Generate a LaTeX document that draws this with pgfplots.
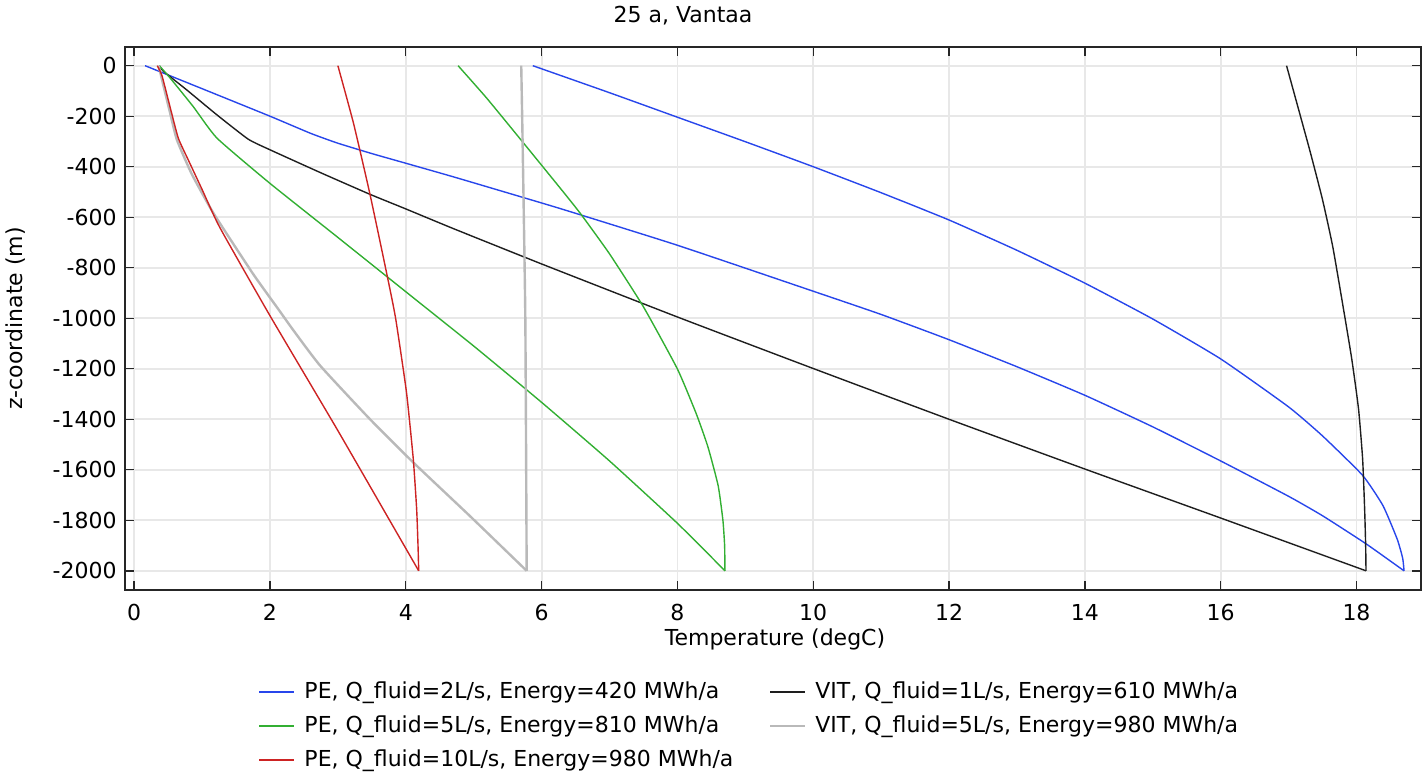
\documentclass[border=0pt]{standalone}
\usepackage{fontspec}
\setmainfont{DejaVu Sans}
\usepackage{pgfplots}
\pgfplotsset{compat=1.18}
\definecolor{cblue}{RGB}{40,70,235}
\definecolor{cgreen}{RGB}{50,175,50}
\definecolor{cred}{RGB}{205,35,35}
\definecolor{cgray}{RGB}{185,185,185}
\definecolor{cblack}{RGB}{30,30,30}
\definecolor{cgrid}{RGB}{232,232,232}
\begin{document}
\fontsize{11}{13}\selectfont
\begin{tikzpicture}
\useasboundingbox (-62.5pt,-96pt) rectangle (651.5pt,295pt);
\begin{axis}[at={(0,0)}, anchor=south west, scale only axis,
  width=648pt, height=271.5pt,
  xmin=-0.135, xmax=18.95, ymin=-2076, ymax=74,
  xtick={0,2,...,18}, xticklabels={0,2,4,6,8,10,12,14,16,18},
  ytick={-2000,-1800,...,0},
  yticklabels={-2000,-1800,-1600,-1400,-1200,-1000,-800,-600,-400,-200,0},
  tick align=inside, major tick length=4.5pt,
  tick style={color=black!85, line width=0.7pt},
  axis line style={color=black!85, line width=0.8pt},
  grid=major, major grid style={color=cgrid, line width=0.9pt},
  every tick label/.append style={inner sep=0pt},
  xticklabel style={yshift=-7pt},
  yticklabel style={xshift=-4pt},
  clip mode=individual,
  legend columns=2, legend cell align=left,
  legend image code/.code={\draw[#1, line width=1pt] (0pt,0pt) -- (17.5pt,0pt);},
  legend style={at={(axis description cs:0.103,-0.1694)}, anchor=north west,
    draw=none, fill=none, inner sep=0pt, outer sep=0pt,
    nodes={inner sep=0pt}, row sep=7pt,
    /tikz/every odd column/.append style={column sep=4.5pt},
    /tikz/every even column/.append style={column sep=18pt}},
  every axis plot/.append style={smooth, tension=0.3},
]
% PE 2 L/s
\addplot[cblue, line width=0.7pt] coordinates {
(0.16,0) (1.0,-91) (2.0,-200) (2.6,-268) (3.0,-307) (3.5,-348) (4.01,-387) (4.7,-440)
(5.73,-522) (6.35,-572) (8,-711) (10,-893) (11,-985) (12,-1085) (13,-1192)
(14,-1305) (15,-1430) (16,-1565) (17,-1705) (17.5,-1782) (18.14,-1893) (18.7,-2000)};
\addlegendentry{PE, Q\_fluid=2L/s, Energy=420 MWh/a}
\addplot[cblue, line width=0.7pt, forget plot] coordinates {
(18.7,-2000) (18.68,-1950) (18.6,-1875) (18.39,-1742) (18.09,-1622) (17.5,-1466)
(17,-1351) (16,-1161) (15,-1003) (14,-861) (13,-731) (12,-611) (11,-503) (10,-400)
(9,-301) (8,-204) (7,-107) (5.87,0)};
% VIT 1 L/s
\addplot[cblack, line width=0.7pt] coordinates {
(0.37,0) (0.43,-22) (0.77,-95) (1.22,-195) (1.68,-291) (2,-333) (2.74,-423)
(3.47,-509) (3.99,-566) (4.7,-645) (6,-785) (8,-995) (10,-1199) (12,-1400)
(14,-1597) (16,-1791) (18.14,-2000)};
\addlegendentry{VIT, Q\_fluid=1L/s, Energy=610 MWh/a}
\addplot[cblack, line width=0.7pt, forget plot] coordinates {
(18.14,-2000) (18.135,-1900) (18.12,-1756) (18.09,-1556) (18.03,-1359) (17.93,-1161)
(17.8,-950) (17.65,-716) (17.5,-531) (17.31,-333) (16.97,0)};
% PE 5 L/s
\addplot[cgreen, line width=0.7pt] coordinates {
(0.37,0) (0.53,-49) (0.87,-162) (1.22,-287) (2,-466) (3,-680) (4,-895) (5,-1110)
(6,-1333) (7,-1565) (8,-1812) (8.7,-2000)};
\addlegendentry{PE, Q\_fluid=5L/s, Energy=810 MWh/a}
\addplot[cgreen, line width=0.7pt, forget plot] coordinates {
(8.7,-2000) (8.695,-1900) (8.67,-1800) (8.6,-1663) (8.45,-1510) (8.28,-1380) (8,-1201)
(7.5,-955) (7,-745) (6.59,-592) (6.35,-510) (5.73,-305) (5.19,-128) (4.77,0)};
% VIT 5 L/s
\addplot[cgray, line width=1.2pt] coordinates {
(0.36,0) (0.45,-100) (0.53,-188) (0.63,-294) (0.85,-430) (1.17,-585) (1.75,-824)
(2.12,-963) (2.34,-1046) (2.74,-1188) (3.47,-1399) (4.11,-1571) (4.94,-1782)
(5.78,-2000)};
\addlegendentry{VIT, Q\_fluid=5L/s, Energy=980 MWh/a}
\addplot[cgray, line width=1.2pt, forget plot] coordinates {
(5.78,-2000) (5.76,-1000) (5.72,-300) (5.70,0)};
% PE 10 L/s
\addplot[cred, line width=0.7pt] coordinates {
(0.34,0) (0.41,-40) (0.53,-165) (0.65,-287) (0.8,-375) (1.0,-490) (1.26,-640)
(2,-990) (3,-1445) (4.19,-2000)};
\addlegendentry{PE, Q\_fluid=10L/s, Energy=980 MWh/a}
\addplot[cred, line width=0.7pt, forget plot] coordinates {
(4.19,-2000) (4.18,-1900) (4.16,-1756) (4.11,-1557) (4.01,-1293) (3.85,-1000) (3.72,-824)
(3.47,-506) (3.23,-228) (3.0,0)};
\end{axis}
\node[anchor=base] at (279pt,283.75pt) {25 a, Vantaa};
\node[anchor=base] at (325pt,-27.5pt) {Temperature (degC)};
\node[rotate=90, anchor=center] at (-54.5pt,135.75pt) {z-coordinate (m)};
\end{tikzpicture}
\end{document}
